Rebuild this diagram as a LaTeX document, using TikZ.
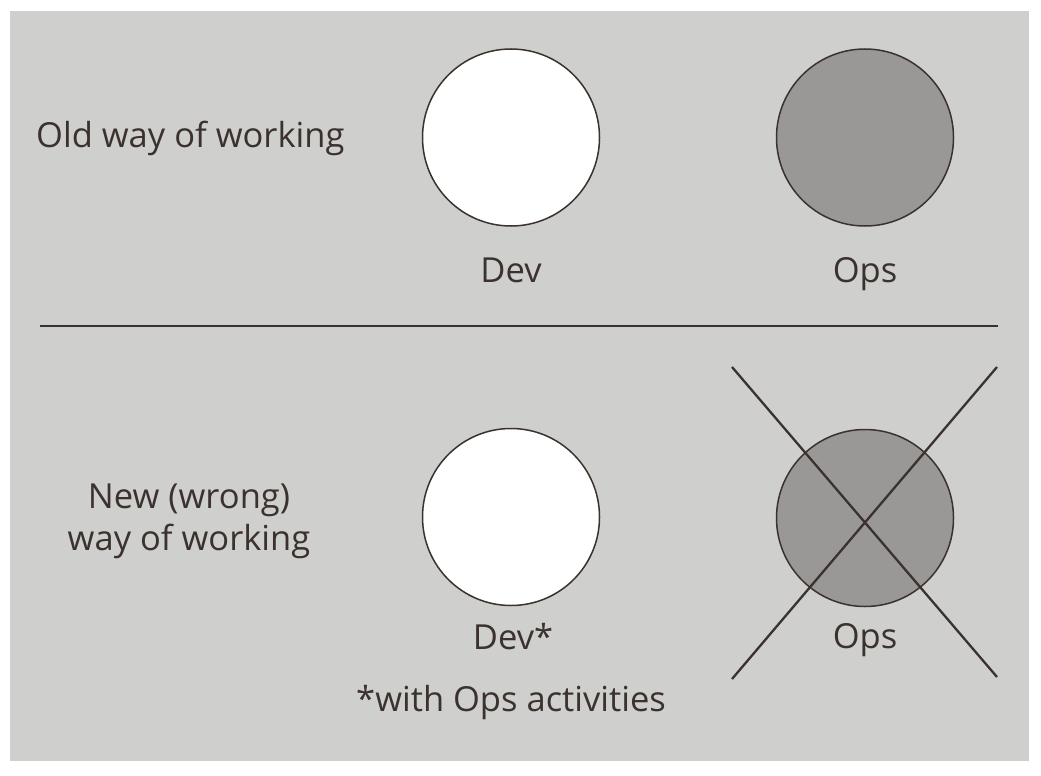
\documentclass[tikz,border=0pt]{standalone}
\usepackage{fontspec}
\setmainfont{Open Sans}
\definecolor{panel}{HTML}{CFCFCD}
\definecolor{ink}{HTML}{3B322E}
\definecolor{opsfill}{HTML}{999896}
\begin{document}
\begin{tikzpicture}[x=1pt,y=-1pt,
  lbl/.style={text=ink,font=\fontsize{34.5}{41}\selectfont,inner sep=0pt,anchor=base},
  devc/.style={circle,draw=ink,line width=1.5pt,fill=white,minimum size=177pt,inner sep=0pt},
  opsc/.style={circle,draw=ink,line width=1.5pt,fill=opsfill,minimum size=177pt,inner sep=0pt},
  rule/.style={draw=ink,line width=1.4pt},
  cross/.style={draw=ink,line width=2.3pt}]
\useasboundingbox (0,0) rectangle (1041,776);
\fill[panel] (10,11) rectangle (1029,761);
% top row
\node[lbl,anchor=base west] (old) at (36,147) {Old way of working};
\node[devc] (dev1) at (511,137.5) {};
\node[opsc] (ops1) at (865,137.5) {};
\node[lbl] (devl1) at (511,282) {Dev};
\node[lbl] (opsl1) at (865,282) {Ops};
% separator
\coordinate (sepL) at (40,326);
\coordinate (sepR) at (998,326);
\draw[rule] (sepL) -- (sepR);
% bottom row
\node[lbl] (new1) at (189,508) {New (wrong)};
\node[lbl] (new2) at (189,550) {way of working};
\node[devc] (dev2) at (511,517) {};
\node[opsc] (ops2) at (865,518) {};
\node[lbl] (devl2) at (513,649) {Dev*};
\node[lbl] (opsl2) at (865,648) {Ops};
\node[lbl] (note) at (511,711) {*with Ops activities};
\coordinate (xa) at (732,367);
\coordinate (xb) at (997,677);
\coordinate (xc) at (997,367);
\coordinate (xd) at (732,679);
\draw[cross] (xa) -- (xb);
\draw[cross] (xc) -- (xd);
\end{tikzpicture}
\end{document}
